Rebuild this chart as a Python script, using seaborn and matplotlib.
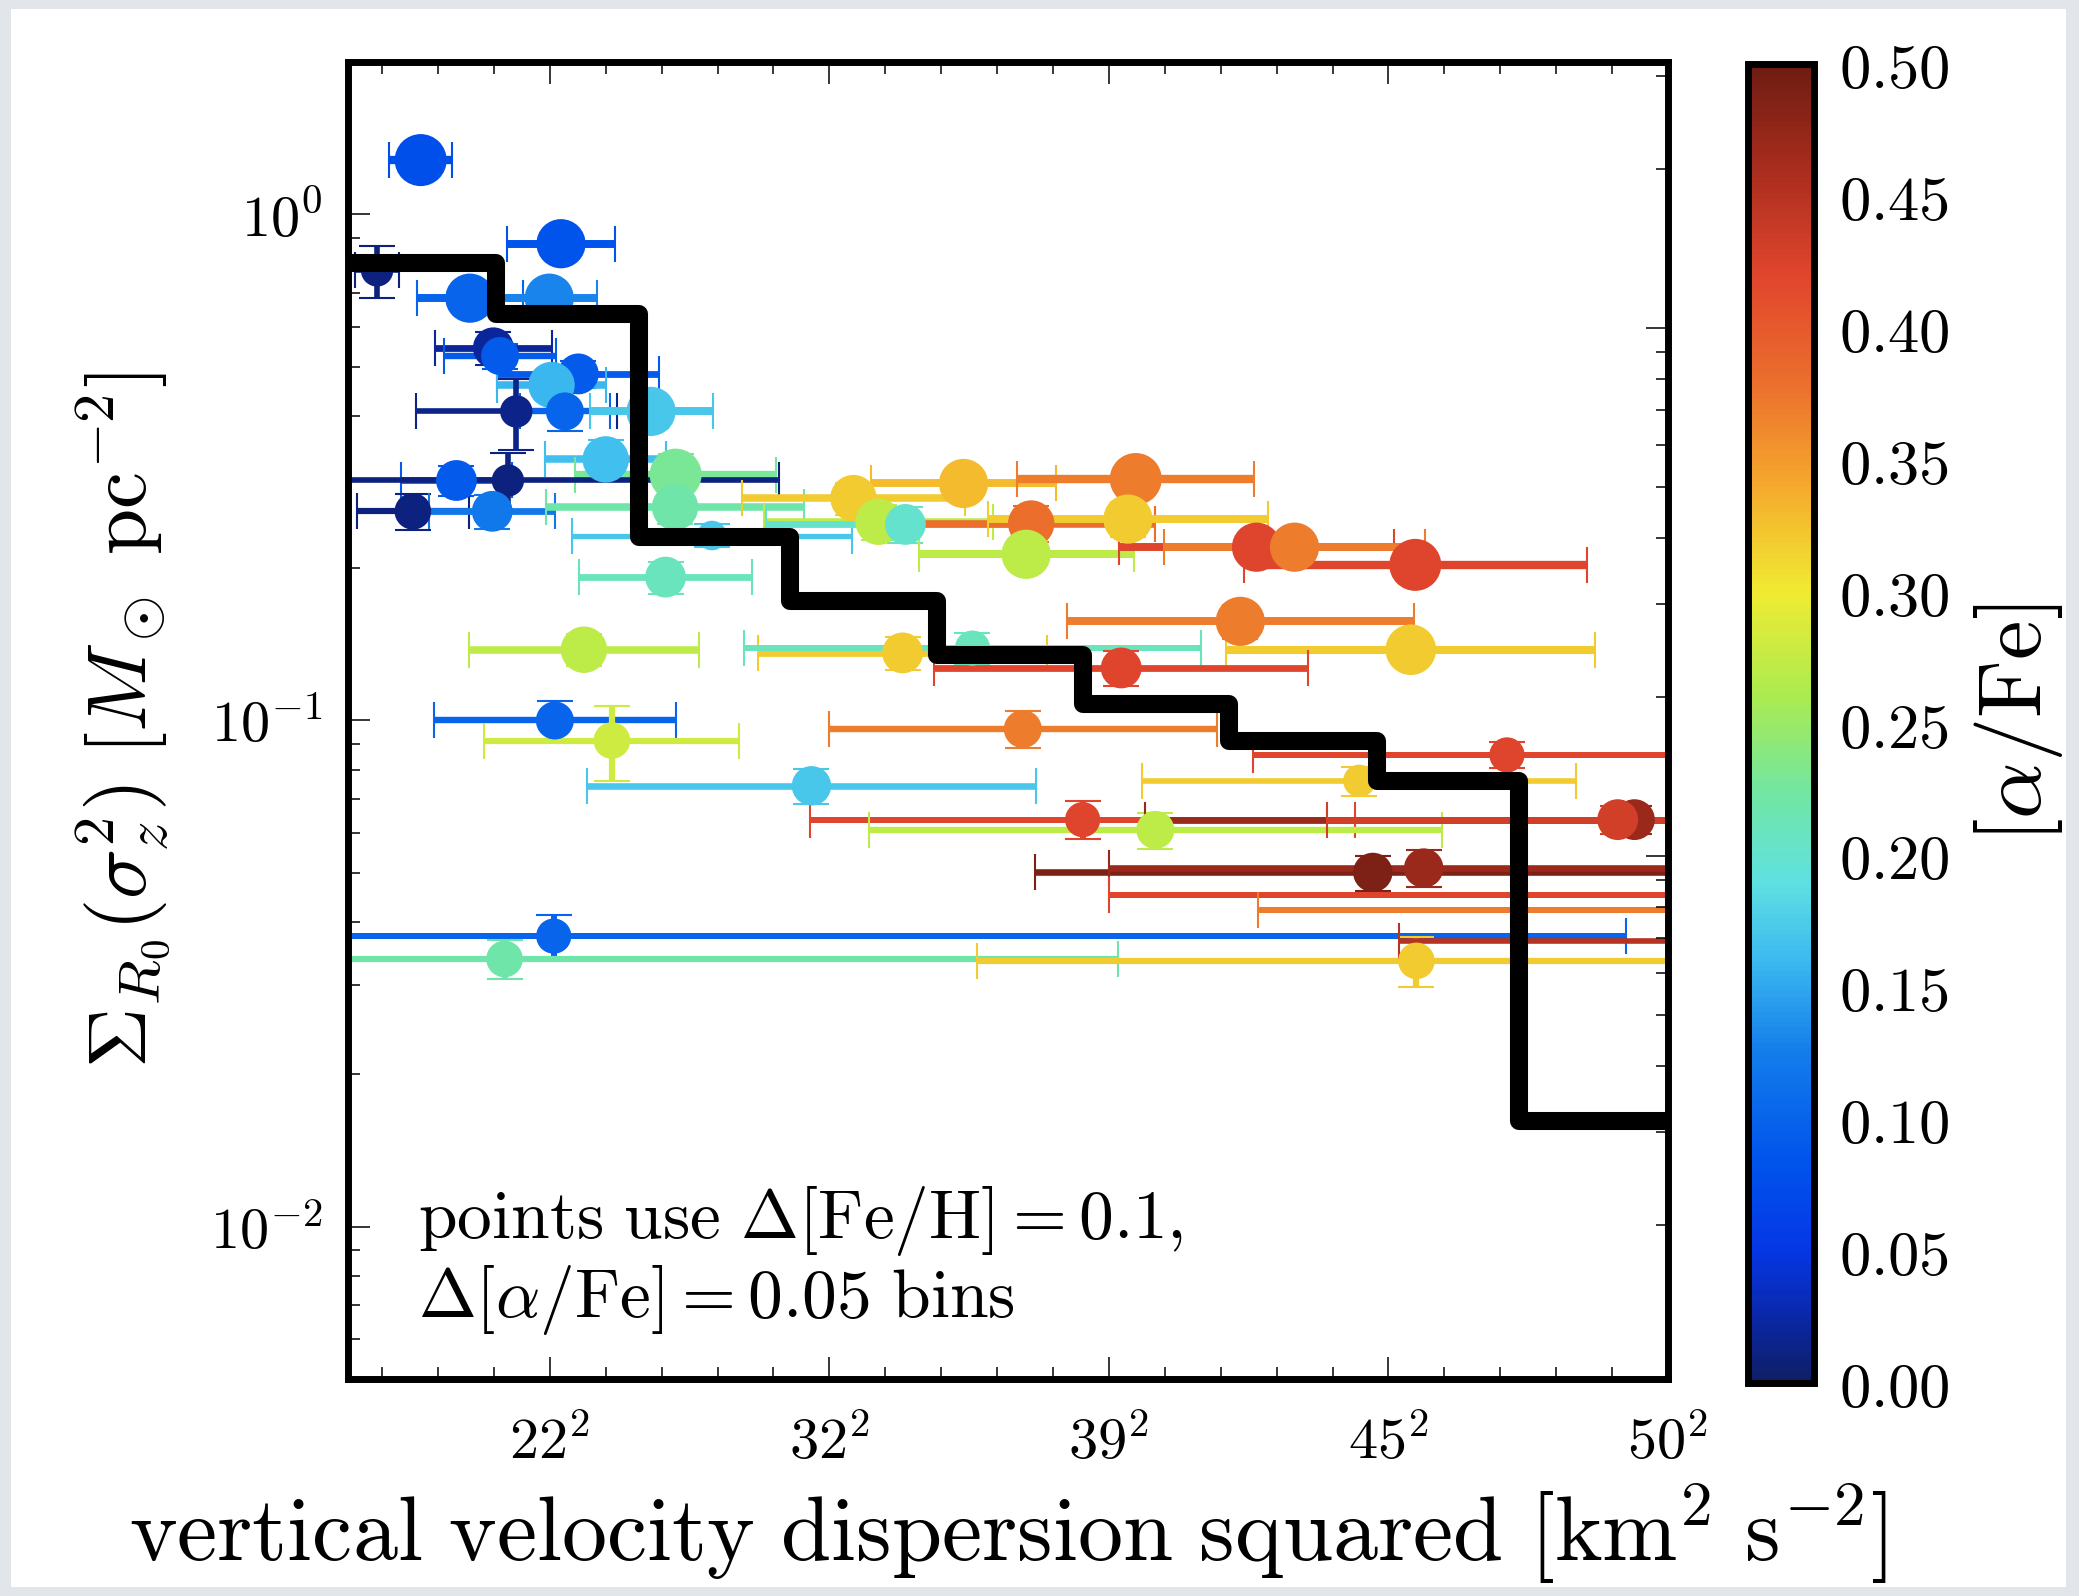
import numpy as np
import pandas as pd
import matplotlib
matplotlib.use("Agg")
import matplotlib.pyplot as plt
import seaborn as sns
from matplotlib.patches import Rectangle
from matplotlib.colors import Normalize, LinearSegmentedColormap
from matplotlib.cm import ScalarMappable
from matplotlib.ticker import MultipleLocator, LogLocator, NullFormatter

sns.set_style("ticks")
plt.rcParams["mathtext.fontset"] = "cm"
plt.rcParams["font.family"] = ["DejaVu Serif"]
for key in ["axes.edgecolor", "axes.labelcolor", "text.color",
            "xtick.color", "ytick.color"]:
    plt.rcParams[key] = "black"

# --- mono-abundance populations: sigma_z^2 [km^2 s^-2], Sigma [Msun pc^-2] ---
sigz2 = [269, 520, 191, 357, 499, 399, 411, 551, 503, 440, 527, 681, 600, 725,
         333, 425, 255, 397, 724, 790, 707, 1043, 1240, 1548, 1088, 1136, 1361,
         1534, 1352, 1764, 1832, 2048, 1735, 2040, 1131, 1256, 1522, 561, 509,
         611, 1346, 968, 2212, 1948, 1453, 1583, 2440, 2410, 1972, 2063, 2560,
         2600, 507, 419, 2050, 2600]
sigz2_err = [56, 96, 40, 95, 85, 104, 100, 145, 98, 180, 80, 110, 108, 180,
             100, 485, 100, 113, 230, 250, 154, 200, 165, 212, 205, 250, 222,
             250, 192, 246, 234, 307, 310, 330, 258, 408, 334, 206, 217,
             228, 347, 402, 455, 388, 487, 513, 876, 520, 604, 562, 1060,
             834, 1918, 1097, 786, 582]
surfdens = [1.28, 0.875, 0.775, 0.683, 0.683, 0.545, 0.525, 0.484, 0.46, 0.408,
            0.408, 0.408, 0.328, 0.306, 0.298, 0.298, 0.259, 0.259, 0.264, 0.232,
            0.192, 0.275, 0.294, 0.30, 0.247, 0.244, 0.245, 0.25, 0.213, 0.22,
            0.22, 0.203, 0.157, 0.138, 0.136, 0.139, 0.127, 0.138, 0.100, 0.0913,
            0.0962, 0.0743, 0.0855, 0.076, 0.0637, 0.0608, 0.0637, 0.0637, 0.0501,
            0.0511, 0.0452, 0.0423, 0.0375, 0.0338, 0.0335, 0.0366]
surfdens_err = [0.05, 0.04, 0.09, 0.04, 0.04, 0.04, 0.03, 0.03, 0.03, 0.065,
                0.035, 0.03, 0.03, 0.03, 0.02, 0.04, 0.021, 0.02, 0.02, 0.012,
                0.014, 0.02, 0.02, 0.02, 0.02, 0.02, 0.02, 0.02, 0.015, 0.015,
                0.015, 0.015, 0.012, 0.01, 0.01, 0.01, 0.01, 0.01, 0.0095, 0.0155,
                0.008, 0.006, 0.005, 0.005, 0.0055, 0.005, 0.004, 0.004, 0.004,
                0.0043, 0.004, 0.004, 0.0037, 0.003, 0.0038, 0.003]
alpha_fe = [0.08, 0.085, 0.01, 0.10, 0.13, 0.02, 0.09, 0.09, 0.16, 0.015,
            0.10, 0.17, 0.165, 0.23, 0.09, 0.01, 0.01, 0.12, 0.22, 0.17,
            0.21, 0.32, 0.33, 0.37, 0.27, 0.20, 0.38, 0.32, 0.27, 0.42,
            0.37, 0.42, 0.37, 0.32, 0.32, 0.21, 0.42, 0.27, 0.10, 0.28,
            0.37, 0.17, 0.42, 0.32, 0.42, 0.27, 0.47, 0.43, 0.49, 0.47,
            0.42, 0.37, 0.10, 0.22, 0.32, 0.45]
bin_weight = [1.0, 0.9, 0.3, 0.9, 0.9, 0.6, 0.5, 0.6, 0.8, 0.3,
              0.5, 0.9, 0.8, 1.0, 0.6, 0.3, 0.45, 0.6, 0.8, 0.2,
              0.6, 0.8, 0.9, 1.0, 0.8, 0.6, 0.8, 0.9, 0.9, 0.9,
              0.9, 1.0, 0.9, 0.95, 0.6, 0.4, 0.6, 0.8, 0.5, 0.45,
              0.5, 0.55, 0.4, 0.3, 0.4, 0.5, 0.6, 0.6, 0.55, 0.55,
              0.4, 0.4, 0.4, 0.45, 0.45, 0.3]

# --- binned total surface density (step curve) ---
step_edges = [139, 404, 660, 930, 1193, 1453, 1714, 1979, 2233, 2500]
step_sigma = [0.80, 0.635, 0.230, 0.172, 0.135, 0.108, 0.0913, 0.0761, 0.0162]

xtick_vals = [500, 1000, 1500, 2000, 2500]
xtick_labels = [r"$22^2$", r"$32^2$", r"$39^2$", r"$45^2$", r"$50^2$"]
ytick_vals = [1e-2, 1e-1, 1e0]
ytick_labels = [r"$10^{-2}$", r"$10^{-1}$", r"$10^{0}$"]
cbar_ticks = [0.0, 0.05, 0.10, 0.15, 0.20, 0.25, 0.30, 0.35, 0.40, 0.45, 0.50]

# soft jet-like colour scale
jet_soft = LinearSegmentedColormap.from_list("jet_soft", [
    (0.00, (15/255, 30/255, 100/255)),
    (0.05, (10/255, 40/255, 170/255)),
    (0.10, (5/255, 55/255, 230/255)),
    (0.17, (0/255, 85/255, 235/255)),
    (0.25, (20/255, 125/255, 235/255)),
    (0.32, (60/255, 185/255, 240/255)),
    (0.38, (95/255, 225/255, 225/255)),
    (0.45, (115/255, 230/255, 160/255)),
    (0.52, (170/255, 235/255, 80/255)),
    (0.60, (240/255, 235/255, 50/255)),
    (0.68, (245/255, 170/255, 45/255)),
    (0.76, (235/255, 110/255, 45/255)),
    (0.84, (225/255, 70/255, 45/255)),
    (0.92, (170/255, 45/255, 30/255)),
    (1.00, (110/255, 28/255, 18/255)),
])

df = pd.DataFrame({"sigz2": sigz2, "surfdens": surfdens, "xerr": sigz2_err,
                   "yerr": surfdens_err, "afe": alpha_fe, "w": bin_weight})

W, H = 2079, 1596
fig = plt.figure(figsize=(W / 100, H / 100), dpi=100, facecolor="#e2e5e9")
fig.patches.append(Rectangle((11 / W, 9 / H), (2066 - 11) / W, (1587 - 9) / H,
                             transform=fig.transFigure, facecolor="white",
                             edgecolor="none", zorder=-10))

ax = fig.add_axes([348 / W, (H - 1379) / H, 1320 / W, 1317 / H])
ax.set_facecolor("none")
norm = Normalize(0.0, 0.5)

# error bars, one per population so each takes its own colour
for _, r in df.iterrows():
    ax.errorbar(r.sigz2, r.surfdens, xerr=r.xerr, yerr=r.yerr, fmt="none",
                ecolor=jet_soft(norm(r.afe)), elinewidth=3.2 + 2.8 * r.w,
                capsize=13, capthick=1.5, zorder=2)

df["area"] = [((24 + 28 * w) * 0.72) ** 2 for w in df["w"]]
sns.scatterplot(data=df, x="sigz2", y="surfdens", hue="afe", palette=jet_soft,
                hue_norm=norm, size="area",
                sizes=(df["area"].min(), df["area"].max()),
                size_norm=(df["area"].min(), df["area"].max()),
                linewidth=0, legend=False, ax=ax, zorder=3)

step_y = step_sigma + [step_sigma[-1]]
sns.lineplot(x=step_edges, y=step_y, drawstyle="steps-post", color="black",
             linewidth=13, solid_joinstyle="round", ax=ax, zorder=5)

ax.set_yscale("log")
ax.set_xlim(step_edges[0], step_edges[-1])
ax.set_ylim(0.005, 2.0)
ax.set_xticks(xtick_vals)
ax.set_xticklabels(xtick_labels)
ax.xaxis.set_minor_locator(MultipleLocator(100))
ax.set_yticks(ytick_vals)
ax.set_yticklabels(ytick_labels)
ax.yaxis.set_minor_locator(LogLocator(base=10, subs=np.arange(2, 10)))
ax.yaxis.set_minor_formatter(NullFormatter())
ax.tick_params(which="both", direction="in", top=True, right=False, width=1.1)
ax.tick_params(which="major", length=16, labelsize=42, pad=18)
ax.tick_params(which="minor", length=8.5)
ax.tick_params(axis="x", which="major", pad=26)
for s in ax.spines.values():
    s.set_linewidth(5)
    s.set_color("black")
    s.set_zorder(6)

ax.set_xlabel(r"$\mathrm{vertical\ velocity\ dispersion\ squared}\ [\mathrm{km}^2\ \mathrm{s}^{-2}]$",
              fontsize=65, labelpad=8)
ax.set_ylabel(r"$\Sigma_{R_0}(\sigma_z^2)\ [M_\odot\ \mathrm{pc}^{-2}]$",
              fontsize=60)
ax.yaxis.set_label_coords(-0.133, 0.5)

ax.text(0.053, 0.148,
        r"$\mathrm{points\ use\ }\Delta[\mathrm{Fe/H}]=0.1,$" + "\n"
        + r"$\Delta[\alpha/\mathrm{Fe}]=0.05\ \mathrm{bins}$",
        transform=ax.transAxes, va="top", ha="left", fontsize=50,
        linespacing=1.1, zorder=7)

# right-hand axis ticks
ax2 = ax.twinx()
ax2.set_yscale("log")
ax2.set_ylim(10 ** -1.99, 10 ** 0.504)
ax2.yaxis.set_minor_locator(LogLocator(base=10, subs=np.arange(2, 10)))
ax2.yaxis.set_minor_formatter(NullFormatter())
ax2.tick_params(which="both", direction="in", labelright=False, width=1.1)
ax2.tick_params(which="major", length=16)
ax2.tick_params(which="minor", length=8.5)
for s in ax2.spines.values():
    s.set_visible(False)

# colour bar for [alpha/Fe]
cax = fig.add_axes([1748 / W, (H - 1383) / H, 66 / W, 1319 / H])
cb = fig.colorbar(ScalarMappable(norm=norm, cmap=jet_soft), cax=cax)
cb.set_ticks(cbar_ticks)
cb.set_ticklabels([r"$%.2f$" % t for t in cbar_ticks])
cb.outline.set_linewidth(5)
cb.outline.set_edgecolor("black")
cax.tick_params(direction="in", length=16, width=1.1, labelsize=45, pad=18)
cb.set_label(r"$[\alpha/\mathrm{Fe}]$", fontsize=64, labelpad=16)

fig.savefig("out.png", dpi=100, facecolor=fig.get_facecolor())
